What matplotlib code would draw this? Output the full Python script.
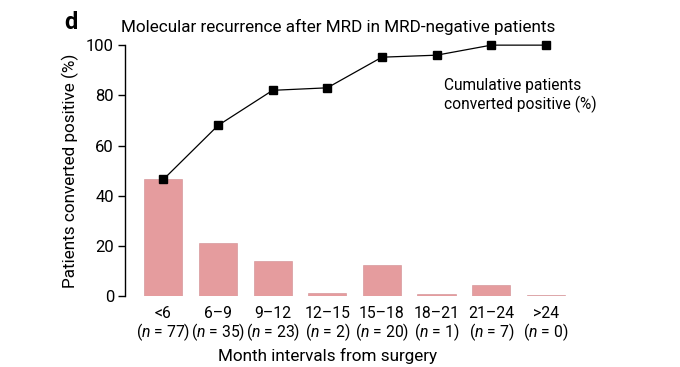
import numpy as np
import matplotlib.pyplot as plt

plt.rcParams['font.family'] = ['Roboto', 'DejaVu Sans']
plt.rcParams['mathtext.fontset'] = 'custom'
plt.rcParams['mathtext.it'] = 'Roboto:italic'
plt.rcParams['mathtext.rm'] = 'Roboto'

intervals = ['<6', '6–9', '9–12', '12–15', '15–18', '18–21', '21–24', '>24']
n_patients = [77, 35, 23, 2, 20, 1, 7, 0]
pct_positive = [46.6, 21.1, 13.9, 1.2, 12.4, 0.8, 4.4, 0.3]
cumulative = [46.5, 68.0, 82.0, 83.0, 95.2, 96.0, 100, 100]

bar_color = '#e59c9e'

fig = plt.figure(figsize=(6.8, 3.67), dpi=100)
ax = fig.add_axes([0.184, 0.193, 0.675, 0.684])

x = np.arange(len(intervals))
ax.bar(x, pct_positive, width=0.7, color=bar_color, edgecolor='#d08c90', linewidth=0.4)
ax.plot(x, cumulative, color='black', lw=0.9, marker='s', markersize=5.5, clip_on=False)

labels = [f'{c}\n($\\mathit{{n}}$ = {n})' for c, n in zip(intervals, n_patients)]
ax.set_xticks(x)
ax.set_xticklabels(labels, fontsize=11.3, linespacing=1.05)
ax.tick_params(axis='x', length=0, pad=7)
ax.tick_params(axis='y', length=5, width=1, labelsize=12, pad=3)

ax.set_xlim(-0.7, 7.7)
ax.set_ylim(0, 100)
ax.set_yticks([0, 20, 40, 60, 80, 100])
for s in ['top', 'right', 'bottom']:
    ax.spines[s].set_visible(False)
ax.spines['left'].set_linewidth(1)

ax.set_ylabel('Patients converted positive (%)', fontsize=12.3, labelpad=5)
ax.set_xlabel('Month intervals from surgery', fontsize=12.3)
ax.xaxis.set_label_coords(0.441, -0.205)

ax.text(5.13, 80, 'Cumulative patients\nconverted positive (%)', fontsize=11.2,
        ha='left', va='center', linespacing=1.25)

fig.text(0.178, 0.926, 'Molecular recurrence after MRD in MRD-negative patients',
         fontsize=12.3, ha='left', va='center')
fig.text(0.094, 0.94, 'd', fontsize=17, fontweight='bold', ha='left', va='center')

fig.savefig('out.png', dpi=100)
